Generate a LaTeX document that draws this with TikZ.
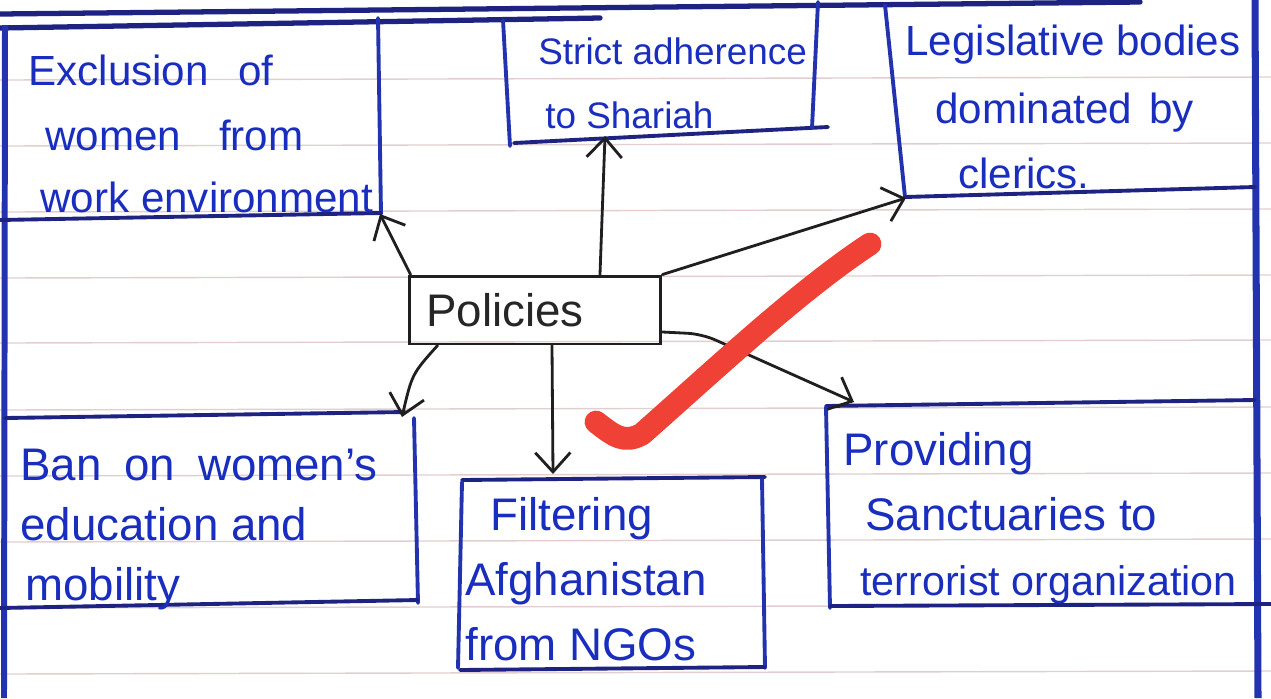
\documentclass[tikz,border=0pt]{standalone}
\usepackage{fontspec}
\setmainfont{Liberation Sans}
\usetikzlibrary{arrows.meta}
\definecolor{ink}{RGB}{25,45,190}
\definecolor{navy}{RGB}{30,35,130}
\definecolor{border}{RGB}{35,50,175}
\definecolor{rulec}{RGB}{226,206,206}
\definecolor{marker}{RGB}{240,65,55}
\tikzset{
  txt/.style={anchor=base west, inner sep=0pt, text=ink, font=\fontsize{26}{30}\selectfont},
  boxline/.style={draw=navy, line width=2.2pt, line cap=round},
  sideline/.style={draw=border, line width=3.4pt},
  ruled/.style={draw=rulec, line width=0.8pt},
  arr/.style={draw=black!88, line width=1.6pt, line cap=round,
    -{Straight Barb[length=11pt,width=20pt,line width=1.6pt]}},
  polbox/.style={draw=black!88, line width=1.7pt, minimum width=5.04cm, minimum height=1.36cm,
    inner sep=0pt, text=black!85, font=\fontsize{26}{30}\selectfont},
  tick/.style={draw=marker, line width=13pt, line cap=round, line join=round}
}
\begin{document}
\begin{tikzpicture}[x=0.02cm, y=-0.02cm]
\useasboundingbox (0,0) rectangle (1271,698);
\clip (0,0) rectangle (1271,698);
\fill[white] (0,0) rectangle (1271,698);
% notebook rules
\foreach \yy in {80,146,212,278,343,410,476,542,608,674}
  \draw[ruled] (0,\yy) -- (1271,\yy-3);
% top lines and page borders
\draw[boxline, line width=3pt] (0,14) -- (1140,2);
\draw[boxline, line width=3pt] (0,28) -- (600,18);
\draw[sideline] (5,25) -- (4,698);
\draw[sideline, line width=4pt] (1255,0) -- (1258,698);
% Exclusion box
\draw[boxline, draw=border] (378,18) -- (381,214);
\draw[boxline] (0,220) -- (381,213);
\node[txt, font=\fontsize{24}{28}\selectfont] (ex1) at (28,85) {Exclusion\hspace{0.7em}of};
\node[txt, font=\fontsize{24}{28}\selectfont] (ex2) at (45,150) {women\hspace{0.9em}from};
\node[txt, font=\fontsize{24}{28}\selectfont] (ex3) at (40,212) {work environment};
% Strict box
\draw[boxline, draw=border] (503,20) -- (510,146);
\draw[boxline] (514,143) -- (828,127);
\draw[boxline, draw=border] (818,2) -- (812,128);
\node[txt, font=\fontsize{21}{25}\selectfont] (st1) at (538,64) {Strict adherence};
\node[txt, font=\fontsize{21}{25}\selectfont] (st2) at (545,128) {to Shariah};
% Legislative box
\draw[boxline, draw=border] (885,5) -- (905,197);
\draw[boxline] (905,197) -- (1255,187);
\node[txt, font=\fontsize{24}{28}\selectfont] (le1) at (905,55) {Legislative bodies};
\node[txt, font=\fontsize{24}{28}\selectfont] (le2) at (935,123) {dominated\hspace{0.4em}by};
\node[txt, font=\fontsize{24}{28}\selectfont] (le3) at (958,188) {clerics.};
% Ban box
\draw[boxline] (5,418) -- (405,412);
\draw[boxline, draw=border] (414,418) -- (418,603);
\draw[boxline] (0,608) -- (418,600);
\node[txt] (ba1) at (20,480) {Ban\hspace{0.5em}on\hspace{0.5em}women's};
\node[txt] (ba2) at (20,540) {education and};
\node[txt] (ba3) at (25,600) {mobility};
% Filtering box
\draw[boxline] (462,480) -- (765,477);
\draw[boxline, draw=border] (462,482) -- (458,668);
\draw[boxline, draw=border] (762,479) -- (765,668);
\draw[boxline] (460,670) -- (765,667);
\node[txt] (fi1) at (490,530) {Filtering};
\node[txt] (fi2) at (465,595) {Afghanistan};
\node[txt] (fi3) at (465,660) {from NGOs};
% Providing box
\draw[boxline] (826,406) -- (1255,400);
\draw[boxline, draw=border] (826,407) -- (830,608);
\draw[boxline] (830,606) -- (1271,604);
\node[txt] (pr1) at (843,465) {Providing};
\node[txt] (pr2) at (865,530) {Sanctuaries to};
\node[txt, font=\fontsize{23.5}{28}\selectfont] (pr3) at (860,595) {terrorist organization};
% central node
\node[polbox] (pol) at (535,310) {Policies\kern34pt\null};
% targets
\coordinate (exC) at (380,214);
\coordinate (stT) at (605,136);
\coordinate (leC) at (906,198);
\coordinate (baC) at (402,417);
\coordinate (fiT) at (553,474);
\coordinate (prC) at (854,402);
% connectors
\draw[arr] ([xshift=0.06cm]pol.north west) -- (exC);
\draw[arr] ([xshift=1.3cm]pol.north) -- (stT);
\draw[arr] (pol.north east) -- (leC);
\draw[arr] ([xshift=0.6cm]pol.south west) .. controls (412,374) .. (baC);
\draw[arr] ([xshift=0.34cm]pol.south) -- (fiT);
\draw[arr, rounded corners=8pt] ([yshift=-0.44cm]pol.east) -- (702,334) -- (prC);
% red check mark
\draw[tick] (596,422) .. controls (614,436) and (624,444) .. (642,434)
  .. controls (720,365) and (800,290) .. (870,244);
\end{tikzpicture}
\end{document}
